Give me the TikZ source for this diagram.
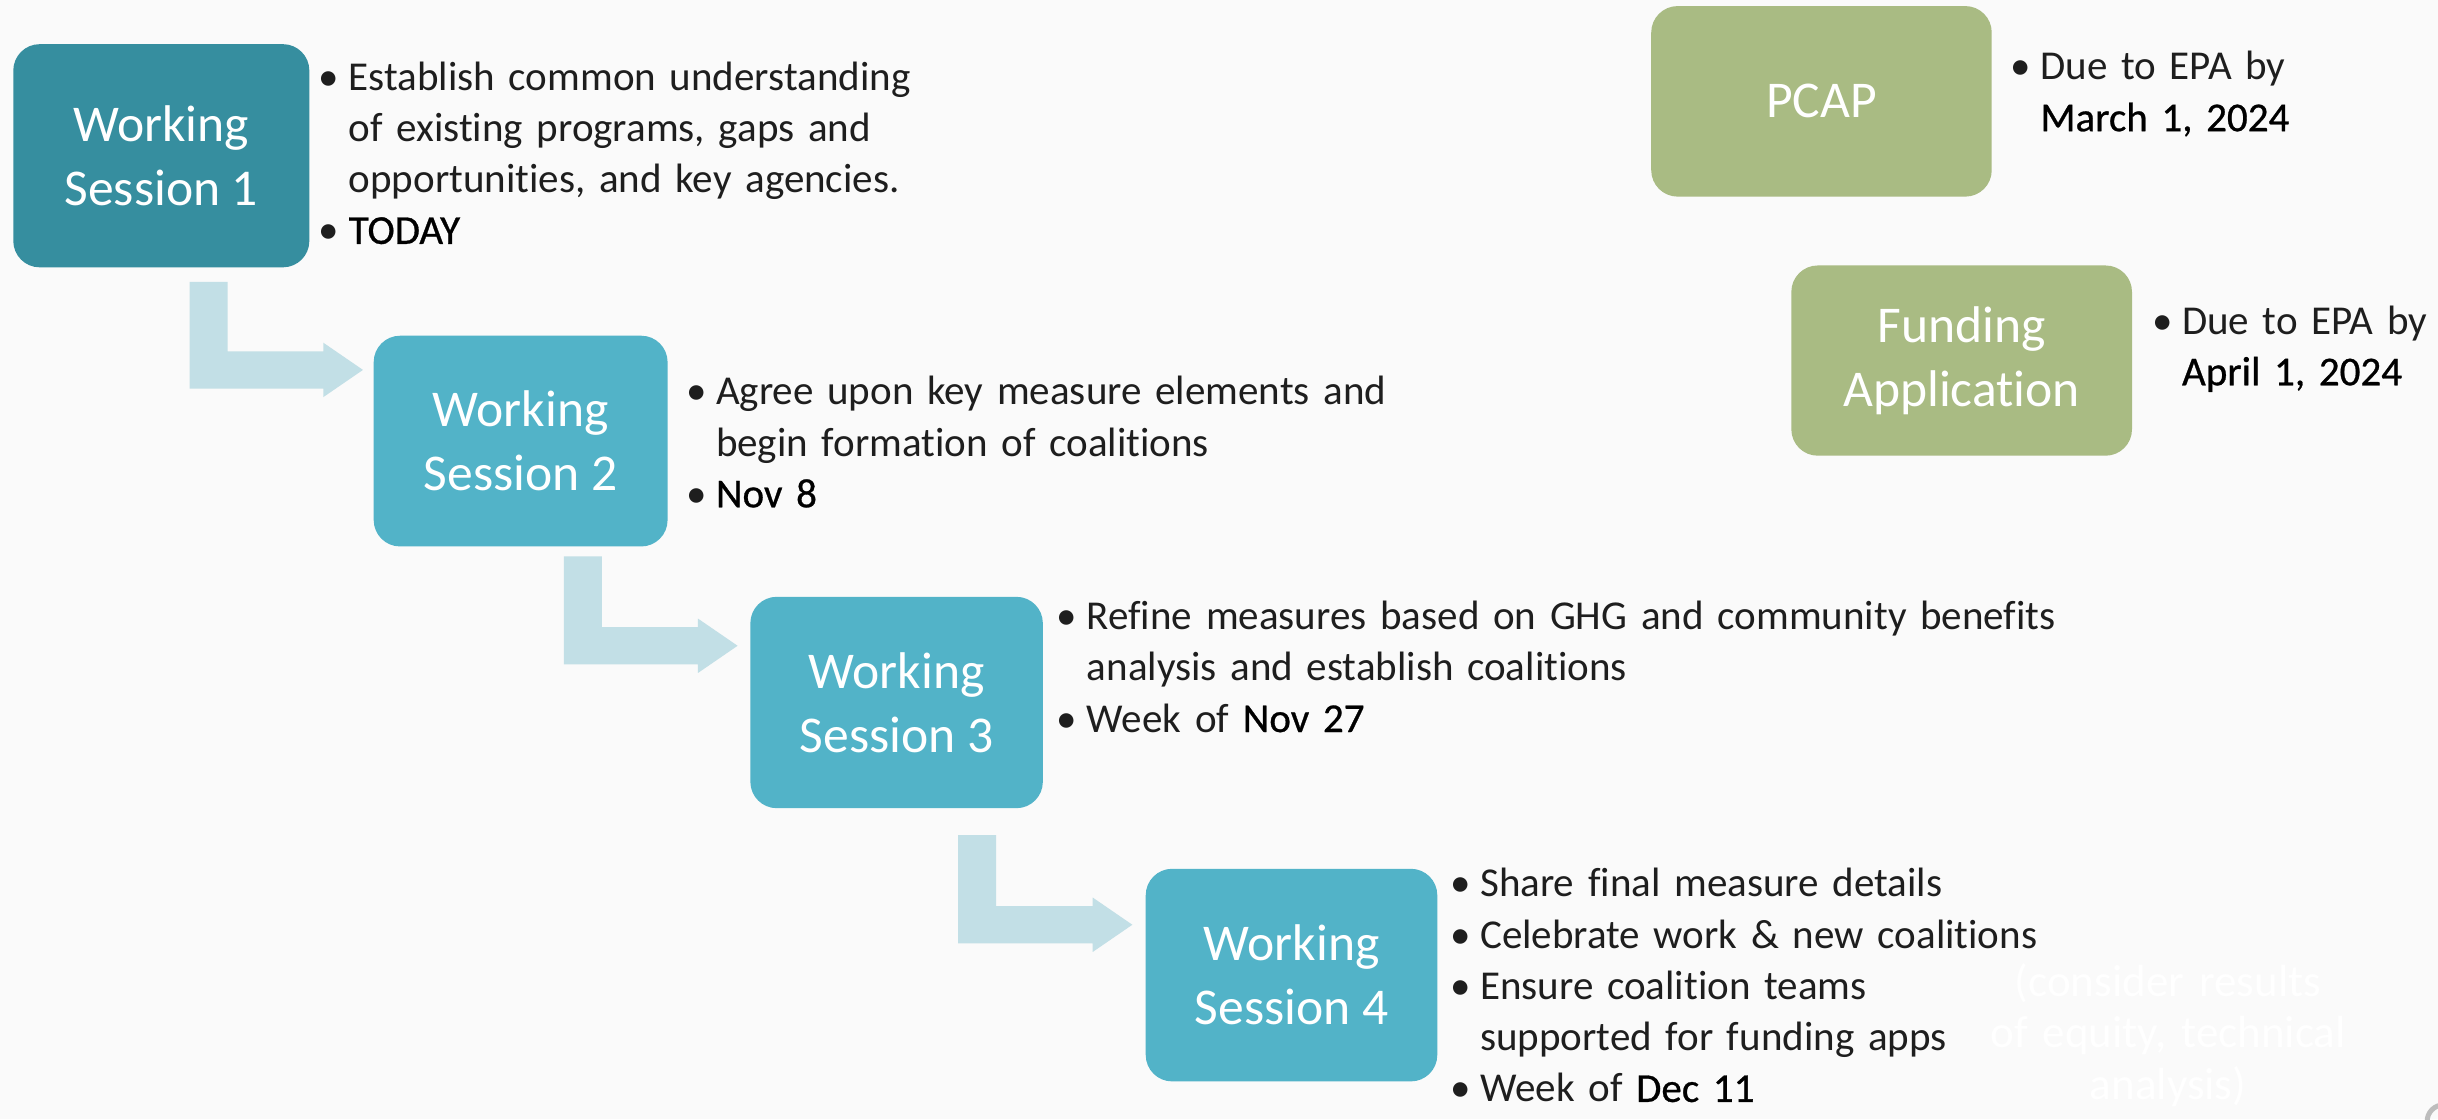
\documentclass[tikz,border=0pt]{standalone}
\usepackage{fontspec}
\setmainfont[Ligatures={NoCommon}]{Carlito}
\newfontfamily\datefont[FakeBold=0.7,Ligatures={NoCommon}]{Carlito}
\usetikzlibrary{calc}
\definecolor{bg}{HTML}{FAFAFA}
\definecolor{tealdark}{HTML}{368E9F}
\definecolor{tealbox}{HTML}{52B3C8}
\definecolor{arrowc}{HTML}{C2DFE6}
\definecolor{sage}{HTML}{A9BB83}
\definecolor{bodytext}{HTML}{1E1E1E}
\definecolor{ringgray}{HTML}{BDBDBD}
\newcommand{\bul}{\makebox[6.3pt][c]{•}\hspace{3.2pt}}
\newcommand{\ind}{\hspace*{9.5pt}}
\newcommand{\dt}[1]{{\datefont\color{black}#1}}
\newcommand{\bentarrow}[2]{%
  \fill[bent] let \p1=(#1), \p2=(#2) in
    (\x1,\y1) -- (\x1+12.25pt,\y1) -- (\x1+12.25pt,\y2+6pt) -- (\x2-12.75pt,\y2+6pt)
    -- (\x2-12.75pt,\y2+8.75pt) -- (\x2,\y2) -- (\x2-12.75pt,\y2-8.75pt)
    -- (\x2-12.75pt,\y2-6pt) -- (\x1,\y2-6pt) -- cycle;}
\tikzset{
  box/.style={rounded corners=8.5pt, inner sep=0pt, text=white, align=center,
    font=\fontsize{16.6}{20.7}\selectfont},
  session/.style={box, fill=tealbox},
  firstsession/.style={box, fill=tealdark},
  milestone/.style={box, fill=sage},
  bullets/.style={anchor=base west, inner sep=0pt, align=left,
    font=\fontsize{13.2}{16.5}\selectfont, text=bodytext},
  bent/.style={fill=arrowc},
  ghost/.style={anchor=base, inner sep=0pt, text width=140pt, align=center,
    font=\fontsize{14.5}{16.6}\selectfont, text=white}
}
\begin{document}
\begin{tikzpicture}[x=0.5pt, y=-0.5pt]
\path[use as bounding box, fill=bg] (0,0) rectangle (1568.7,720);
\clip (0,0) rectangle (1568.7,720);

% session boxes
\node[firstsession, minimum width=95.25pt, minimum height=71.8pt] (b1) at (103.8,100.2) {Working\\Session 1};
\node[session, minimum width=94.55pt, minimum height=67.8pt] (b2) at (335,283.8) {Working\\Session 2};
\node[session, minimum width=94.1pt, minimum height=68pt] (b3) at (576.9,452) {Working\\Session 3};
\node[session, minimum width=93.8pt, minimum height=68.4pt] (b4) at (831,627.4) {Working\\Session 4};

% milestone boxes
\node[milestone, minimum width=109.55pt, minimum height=61.3pt] (pcap) at (1172,65.2) {PCAP};
\node[milestone, minimum width=109.6pt, minimum height=61.2pt] (fund) at (1262.2,232) {Funding\\Application};

% bent arrows
\coordinate (a1s) at ($(b1.south)+(18.2,9)$);
\coordinate (a1t) at ($(b2.west)+(-6.5,-45.8)$);
\coordinate (a2s) at ($(b2.south)+(27.8,6)$);
\coordinate (a2t) at ($(b3.west)+(-7.8,-36.5)$);
\coordinate (a3s) at ($(b3.south)+(39.6,17)$);
\coordinate (a3t) at ($(b4.west)+(-8.2,-32.4)$);
\bentarrow{a1s}{a1t}
\bentarrow{a2s}{a2t}
\bentarrow{a3s}{a3t}

% bullet texts
\node[bullets, text width=200pt] (t1) at (205,57.9) {\mbox{\bul Establish common understanding}\\
\mbox{\ind of existing programs, gaps and}\\
\mbox{\ind opportunities, and key agencies.}\\
\mbox{\bul\dt{TODAY}}};
\node[bullets, text width=235pt] (t2) at (441.3,260.4) {\mbox{\bul Agree upon key measure elements and}\\
\mbox{\ind begin formation of coalitions}\\
\mbox{\bul\dt{Nov 8}}};
\node[bullets, text width=330pt] (t3) at (679.9,405) {\mbox{\bul Refine measures based on GHG and community benefits}\\
\mbox{\ind analysis and establish coalitions}\\
\mbox{\bul Week of \dt{Nov 27}}};
\node[bullets, text width=200pt] (t4) at (933,577) {\mbox{\bul Share final measure details}\\
\mbox{\bul Celebrate work \& new coalitions}\\
\mbox{\bul Ensure coalition teams}\\
\mbox{\ind supported for funding apps}\\
\mbox{\bul Week of \dt{Dec 11}}};
\node[bullets, text width=120pt] (t5) at (1293.5,51.4) {\mbox{\bul Due to EPA by}\\
\mbox{\ind\dt{March 1, 2024}}};
\node[bullets, text width=90pt] (t6) at (1384.6,214.9) {\mbox{\bul Due to EPA by}\\
\mbox{\ind\dt{April 1, 2024}}};

% faint note
\node[ghost] (note) at (1395,641) {(consider results\\of equity, technical\\analysis)};

% cut-off ring at the corner
\draw[ringgray, line width=1.6pt] (1572.3,721.5) circle[radius=5.3pt];
\end{tikzpicture}
\end{document}
